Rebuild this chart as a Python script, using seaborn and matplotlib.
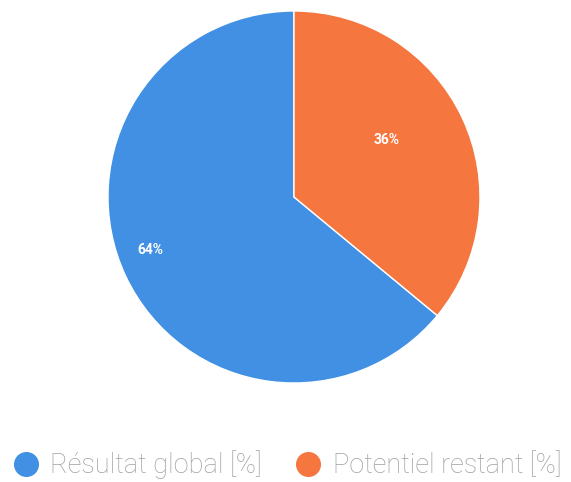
import matplotlib
matplotlib.use("Agg")
import matplotlib.pyplot as plt
from matplotlib.lines import Line2D
import seaborn as sns

labels = ['Résultat global [%]', 'Potentiel restant [%]']
values = [64, 36]
colors = ['#4190e3', '#f5763f']

sns.set_style('white')
plt.rcParams['font.family'] = ['Roboto', 'DejaVu Sans']

fig = plt.figure(figsize=(5.71, 4.82), dpi=100)
ax = fig.add_axes([108/571, 99/482, 372/571, 372/482])

wedges, texts, pcts = ax.pie(values, colors=colors, startangle=90,
                             autopct='%1.0f%%', pctdistance=0.55,
                             wedgeprops={'edgecolor': 'white', 'linewidth': 1},
                             textprops={'color': 'white', 'fontsize': 10, 'fontweight': 'bold'})
# blue label sits further out than the orange one; both a bit higher
x, y = pcts[0].get_position()
pcts[0].set_position((x * 1.55, y * 1.55 + 0.08))
x, y = pcts[1].get_position()
pcts[1].set_position((x, y + 0.07))
ax.set_xlim(-1, 1)
ax.set_ylim(-1, 1)
ax.set_aspect('equal')
ax.axis('off')

handles = [Line2D([0], [0], marker='o', linestyle='', markersize=17,
                  markerfacecolor=c, markeredgecolor=c) for c in colors]
fig.legend(handles, labels, loc='center', bbox_to_anchor=(0.5, 1 - 465/482), ncol=2,
           frameon=False, prop={'size': 19.5, 'weight': 'light'}, labelcolor='#a0a0a0',
           handletextpad=0.3, columnspacing=1.1, handlelength=1.2)

fig.savefig('out.png', dpi=100)
